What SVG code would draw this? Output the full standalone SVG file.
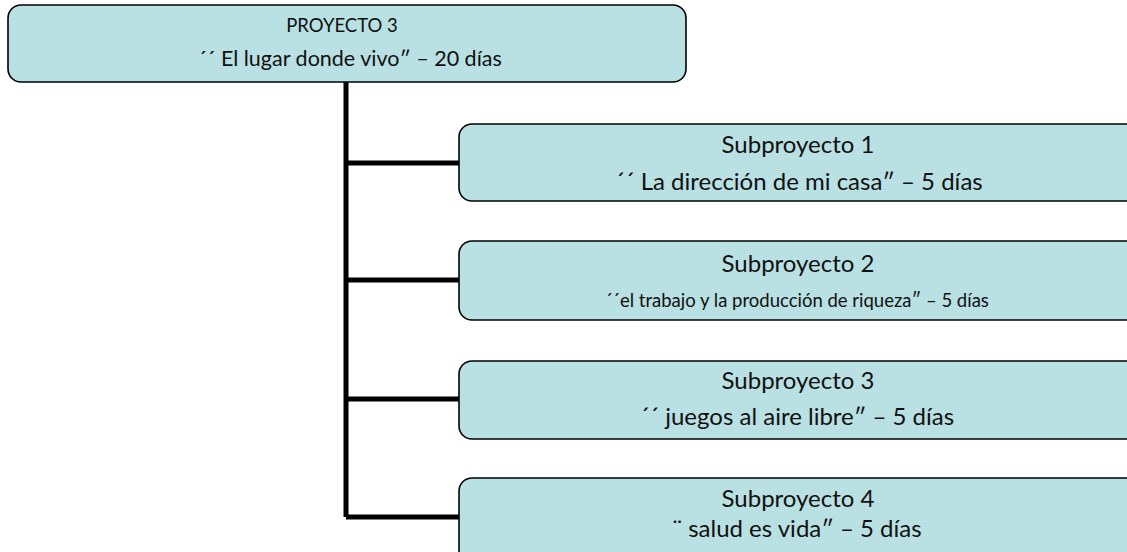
<svg xmlns="http://www.w3.org/2000/svg" width="1127" height="552" viewBox="0 0 1127 552">
<style>
.box{fill:#b9e0e3;stroke:#000;stroke-width:1.6}
.t{font-family:Lato,"Liberation Sans",sans-serif;fill:#111;text-anchor:middle}
.s{font-size:24px}
.conn{fill:none;stroke:#000;stroke-width:5}
</style>
<rect width="1127" height="552" fill="#fff"/>
<g id="connectors">
<path class="conn" d="M346,82 V517 M346,163 H459 M346,280 H459 M346,399 H459 M346,517 H459"/>
</g>
<g id="proyecto3">
<rect class="box" x="8" y="5" width="678" height="77" rx="13"/>
<text class="t" x="342" y="32" font-size="18.5">PROYECTO 3</text>
<text class="t" x="350" y="66" font-size="21.5">´´ El lugar donde vivo″ – 20 días</text>
</g>
<g id="sub1">
<rect class="box" x="459" y="124" width="690" height="77" rx="13"/>
<text class="t s" x="798" y="153">Subproyecto 1</text>
<text class="t s" x="799" y="190">´´ La dirección de mi casa″ – 5 días</text>
</g>
<g id="sub2">
<rect class="box" x="459" y="241" width="690" height="79" rx="13"/>
<text class="t s" x="798" y="272">Subproyecto 2</text>
<text class="t" x="797" y="307" font-size="18.5">´´el trabajo y la producción de riqueza″ – 5 días</text>
</g>
<g id="sub3">
<rect class="box" x="459" y="361" width="690" height="78" rx="13"/>
<text class="t s" x="798" y="389">Subproyecto 3</text>
<text class="t s" x="797" y="425">´´ juegos al aire libre″ – 5 días</text>
</g>
<g id="sub4">
<rect class="box" x="459" y="478" width="690" height="90" rx="13"/>
<text class="t s" x="798" y="507">Subproyecto 4</text>
<text class="t s" x="797" y="537">¨ salud es vida″ – 5 días</text>
</g>
</svg>
